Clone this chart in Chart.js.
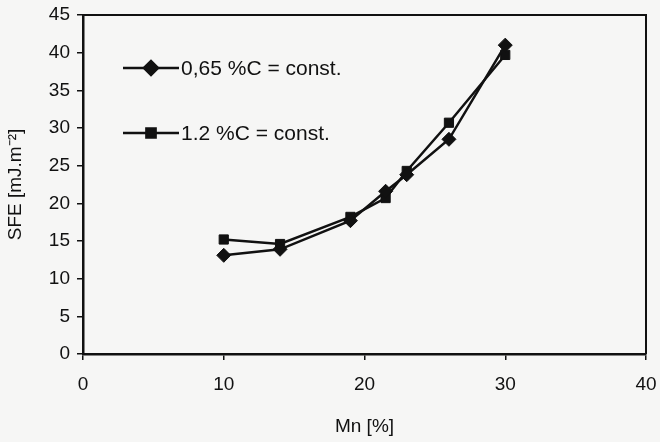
<!DOCTYPE html>
<html>
<head>
<meta charset="utf-8">
<script src="https://cdn.jsdelivr.net/npm/chart.js@4"></script>
<style>
html,body{margin:0;padding:0;background:#f6f6f5;}
#wrap{width:660px;height:442px;position:relative;}
</style>
</head>
<body>
<div id="wrap"><canvas id="c" width="660" height="442"></canvas></div>
<script>
const xTicks = [0, 10, 20, 30, 40];
const yTicks = [0, 5, 10, 15, 20, 25, 30, 35, 40, 45];
const seriesNames = ['0,65 %C = const.', '1.2 %C = const.'];
const mnA = [10, 14, 19, 21.5, 23, 26, 30];
const sfeA = [13.1, 13.9, 17.7, 21.6, 23.8, 28.5, 41.0];
const mnB = [10, 14, 19, 21.5, 23, 26, 30];
const sfeB = [15.2, 14.6, 18.2, 20.7, 24.3, 30.7, 39.7];
const xTitle = 'Mn [%]';
const yTitle = 'SFE [mJ.m⁻²]';

const FONT = 'Liberation Sans, Arial, sans-serif';

const frame = {
  id: 'frame',
  afterDatasetsDraw(chart) {
    const {ctx, chartArea: a} = chart;
    ctx.save();
    ctx.strokeStyle = '#111';
    ctx.lineWidth = 2;
    ctx.beginPath();
    ctx.moveTo(a.left, a.top);
    ctx.lineTo(a.right, a.top);
    ctx.lineTo(a.right, a.bottom);
    ctx.stroke();
    const entries = [
      {ds: chart.data.datasets[0], dy: 53},
      {ds: chart.data.datasets[1], dy: 118}
    ];
    ctx.font = '21px ' + FONT;
    ctx.textBaseline = 'middle';
    entries.forEach(e => {
      const y = a.top + e.dy;
      const x0 = a.left + 40, x1 = a.left + 96;
      ctx.strokeStyle = '#111';
      ctx.fillStyle = '#111';
      ctx.lineWidth = 2.5;
      ctx.beginPath(); ctx.moveTo(x0, y); ctx.lineTo(x1, y); ctx.stroke();
      Chart.helpers.drawPoint(ctx, {pointStyle: e.ds.pointStyle, radius: e.ds.pointRadius, borderWidth: 1, rotation: 0}, (x0 + x1) / 2, y);
      ctx.fillStyle = '#111';
      ctx.fillText(e.ds.label, x1 + 2, y + 1);
    });
    ctx.restore();
  }
};

new Chart(document.getElementById('c'), {
  type: 'scatter',
  data: {
    datasets: [
      {
        label: seriesNames[0],
        data: mnA.map((x, i) => ({x, y: sfeA[i]})),
        showLine: true,
        borderColor: '#111',
        backgroundColor: '#111',
        borderWidth: 2.5,
        pointStyle: 'rectRot',
        pointRadius: 7,
        pointBorderWidth: 1,
        tension: 0
      },
      {
        label: seriesNames[1],
        data: mnB.map((x, i) => ({x, y: sfeB[i]})),
        showLine: true,
        borderColor: '#111',
        backgroundColor: '#111',
        borderWidth: 2.5,
        pointStyle: 'rect',
        pointRadius: 6.5,
        pointBorderWidth: 1,
        tension: 0
      }
    ]
  },
  options: {
    responsive: false,
    animation: false,
    devicePixelRatio: 1,
    layout: {autoPadding: false, padding: {left: 0, top: 15, right: 14, bottom: 0}},
    plugins: {legend: {display: false}, tooltip: {enabled: false}},
    scales: {
      x: {
        type: 'linear',
        min: xTicks[0], max: xTicks[xTicks.length - 1],
        afterBuildTicks(s) { s.ticks = xTicks.map(v => ({value: v})); },
        afterFit(s) { s.height = 88; s.paddingRight = 0; s.paddingLeft = 0; },
        grid: {drawOnChartArea: false, drawTicks: true, tickLength: 6, color: '#111', lineWidth: 1.5},
        border: {display: true, color: '#111', width: 2.5},
        ticks: {font: {family: FONT, size: 19}, color: '#111', padding: 13, maxRotation: 0},
        title: {display: true, text: xTitle, font: {family: FONT, size: 19}, color: '#111', padding: {top: 4, bottom: 4}}
      },
      y: {
        type: 'linear',
        min: yTicks[0], max: yTicks[yTicks.length - 1],
        afterBuildTicks(s) { s.ticks = yTicks.map(v => ({value: v})); },
        afterFit(s) { s.width = 83; s.paddingTop = 0; s.paddingBottom = 0; },
        grid: {drawOnChartArea: false, drawTicks: true, tickLength: 6, color: '#111', lineWidth: 1.5},
        border: {display: true, color: '#111', width: 2.5},
        ticks: {font: {family: FONT, size: 19}, color: '#111', padding: 7},
        title: {display: true, text: yTitle, font: {family: FONT, size: 19}, color: '#111', padding: {top: 4, bottom: 4}}
      }
    }
  },
  plugins: [frame]
});
</script>
</body>
</html>
